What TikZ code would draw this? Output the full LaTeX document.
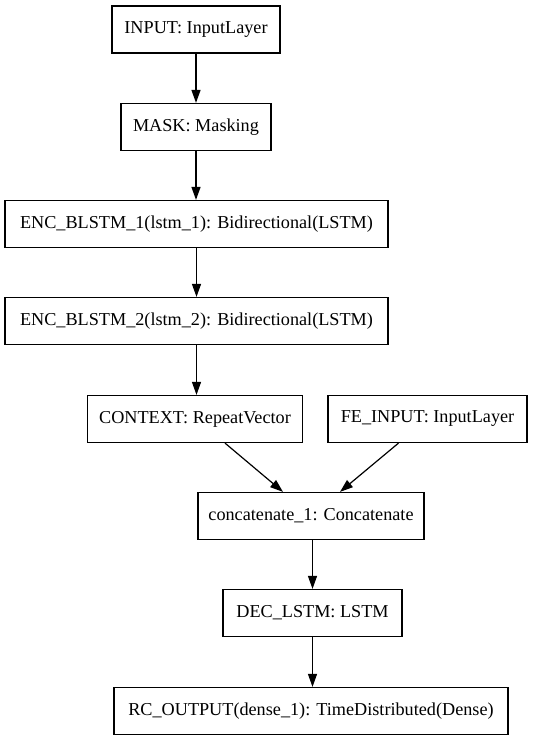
\documentclass[tikz,border=0pt]{standalone}
\usepackage{fontspec}
\setmainfont{Liberation Serif}
\usetikzlibrary{arrows.meta}
\begin{document}
\begin{tikzpicture}[x=1pt,y=-1pt,
  layer/.style={draw,line width=1.2pt,rectangle,minimum height=47pt,inner sep=0pt,font=\fontsize{18.2}{20}\selectfont},
  conn/.style={line width=1.2pt,-{Triangle[length=13pt,width=9pt]}}]
\useasboundingbox (0,0) rectangle (533,741);
\node[layer,minimum width=168pt] (inp) at (196,29.5) {INPUT: InputLayer};
\node[layer,minimum width=150pt] (mask) at (196,127) {MASK: Masking};
\node[layer,minimum width=383pt] (enc1) at (196.5,224) {ENC\_BLSTM\_1(lstm\_1): Bidirectional(LSTM)};
\node[layer,minimum width=383pt] (enc2) at (196.5,321) {ENC\_BLSTM\_2(lstm\_2): Bidirectional(LSTM)};
\node[layer,minimum width=215pt] (ctx) at (195,419) {CONTEXT: RepeatVector};
\node[layer,minimum width=199pt] (fe) at (427.5,419) {FE\_INPUT: InputLayer};
\node[layer,minimum width=226pt] (cat) at (311,516) {concatenate\_1: Concatenate};
\node[layer,minimum width=179pt] (dec) at (312.5,613) {DEC\_LSTM: LSTM};
\node[layer,minimum width=394pt] (rc) at (311,711) {RC\_OUTPUT(dense\_1): TimeDistributed(Dense)};
\draw[conn] (inp.south) -- (mask.north);
\draw[conn] (mask.south) -- (mask.south |- enc1.north);
\draw[conn] (enc1.south) -- (enc2.north);
\draw[conn] (enc2.south) -- (enc2.south |- ctx.north);
\draw[conn] ([xshift=30pt]ctx.south) -- ([xshift=-28pt]cat.north);
\draw[conn] ([xshift=-29pt]fe.south) -- ([xshift=29pt]cat.north);
\draw[conn] (cat.south -| dec.north) -- (dec.north);
\draw[conn] (dec.south) -- (dec.south |- rc.north);
\end{tikzpicture}
\end{document}
